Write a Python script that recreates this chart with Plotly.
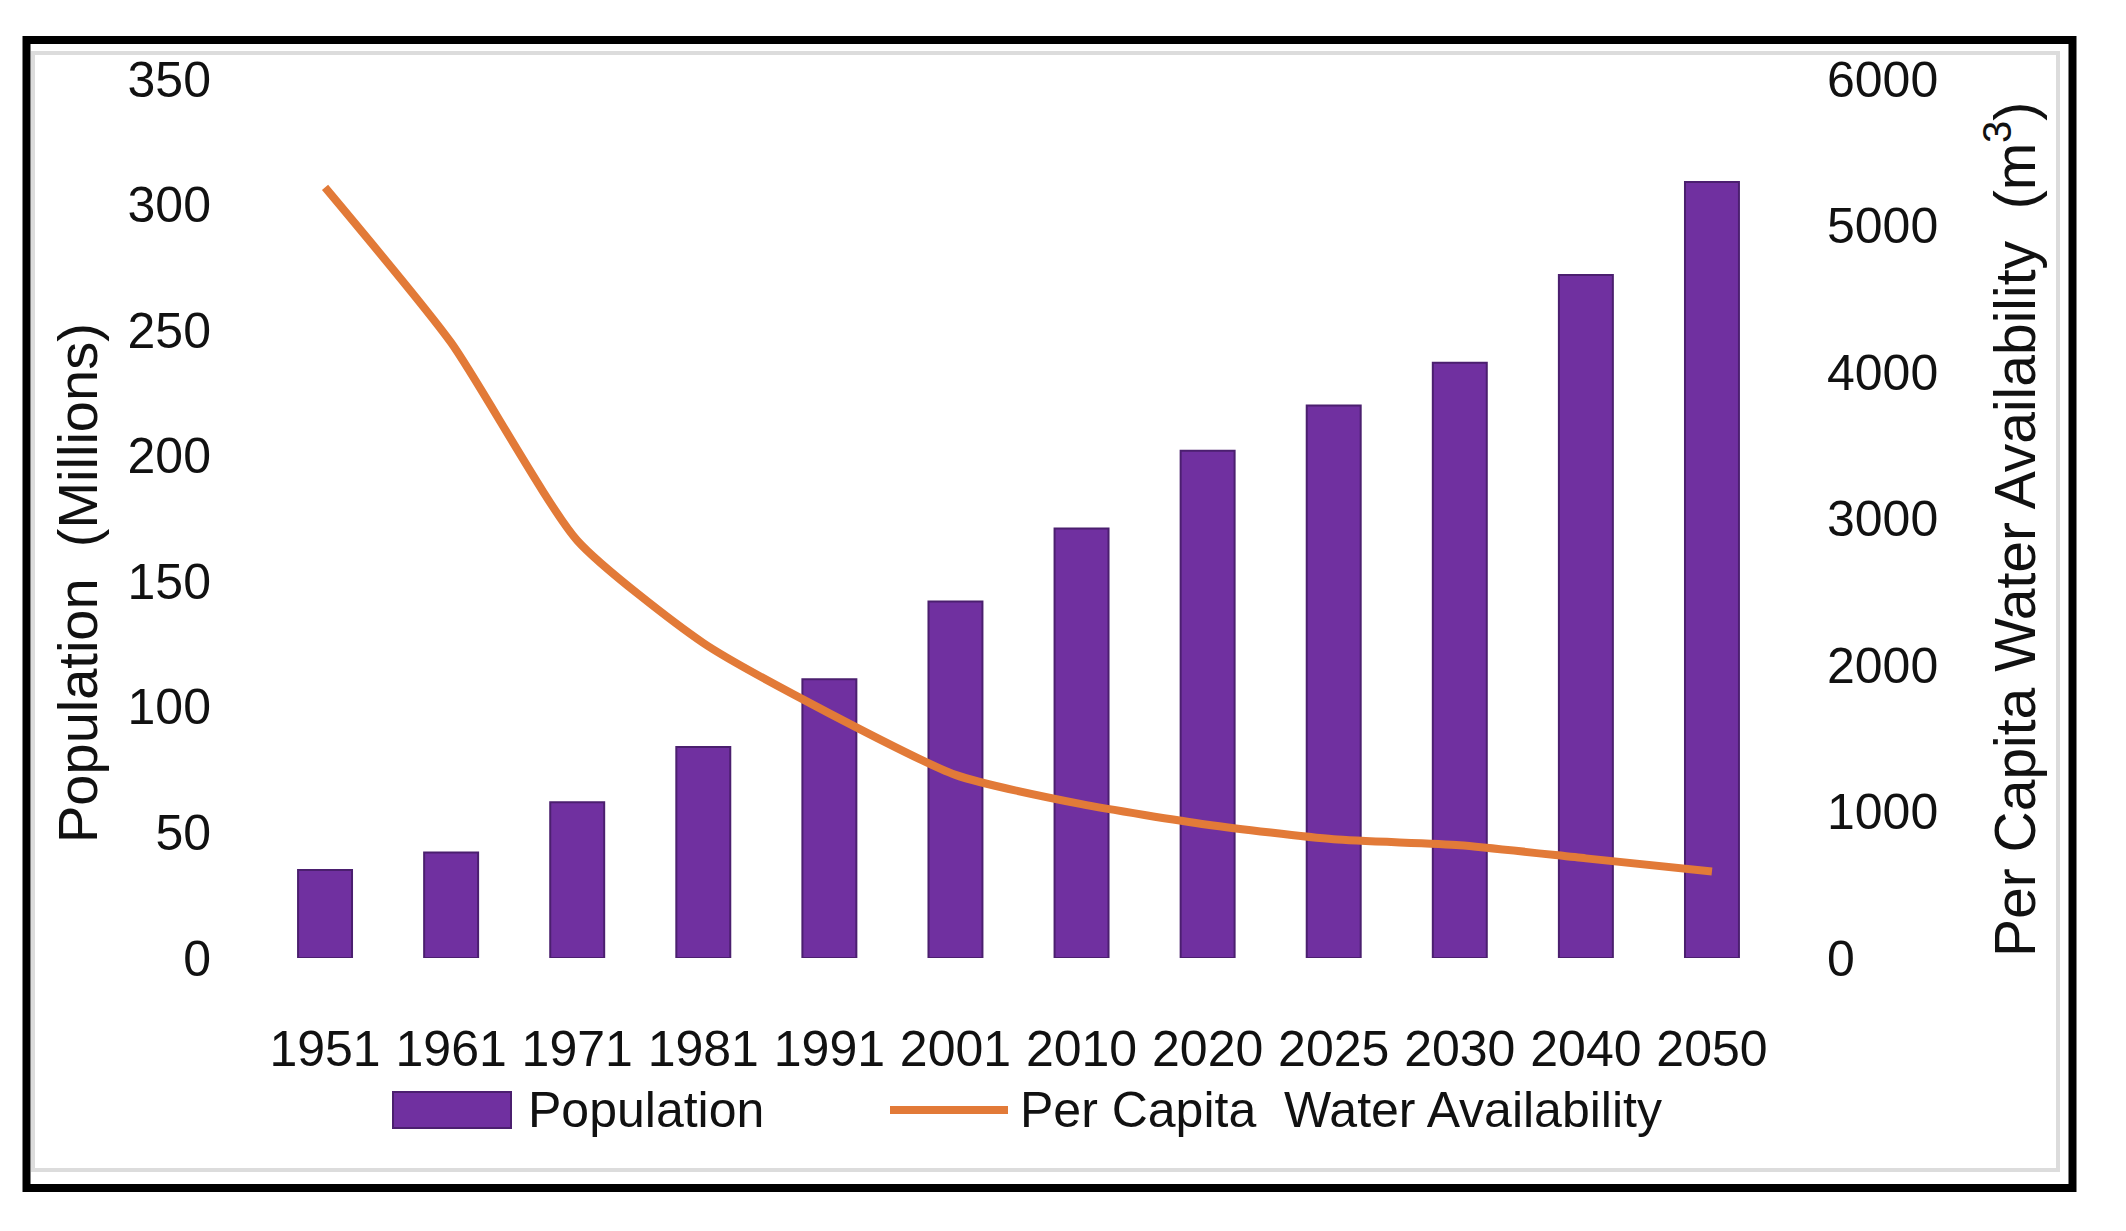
import plotly.graph_objects as go

# data
years = ["1951", "1961", "1971", "1981", "1991", "2001", "2010", "2020", "2025", "2030", "2040", "2050"]
population = [35, 42, 62, 84, 111, 142, 171, 202, 220, 237, 272, 309]
water_per_capita = [5260, 4200, 2850, 2150, 1670, 1250, 1050, 910, 810, 770, 680, 590]

pop_ticks = [0, 50, 100, 150, 200, 250, 300, 350]
water_ticks = [0, 1000, 2000, 3000, 4000, 5000, 6000]

PURPLE = "#7030A0"
PURPLE_EDGE = "#4B1F6F"
ORANGE = "#E27A38"
TEXT = "#111111"
FONT = "Liberation Sans, Arial, sans-serif"

# the page body adds an 8px margin, so the figure is drawn 8px in from the window corner
OFF = 8
W, H = 2126 - 2 * OFF, 1231 - 2 * OFF
L, T = 262 - OFF, 79 - OFF
R = W - (1775 - OFF)
B = H - (958 - OFF)
PW = W - L - R
PH = H - T - B


def px(x):
    # window pixel -> paper x
    return (x - OFF - L) / PW


def py(y):
    # window pixel -> paper y
    return (H - B - (y - OFF)) / PH


fig = go.Figure()

fig.add_trace(go.Bar(
    x=years, y=population, name="Population",
    marker=dict(color=PURPLE, line=dict(color=PURPLE_EDGE, width=2)),
    showlegend=False,
))

fig.add_trace(go.Scatter(
    x=years, y=water_per_capita, name="Per Capita Water Availability",
    mode="lines", yaxis="y2",
    line=dict(color=ORANGE, width=8, shape="spline", smoothing=0.6),
    showlegend=False,
))

shapes = [
    # outer frame
    dict(type="rect", xref="paper", yref="paper",
         x0=px(26.5), x1=px(2072.5), y0=py(40), y1=py(1188),
         line=dict(color="black", width=8), fillcolor="rgba(0,0,0,0)", layer="below"),
    dict(type="rect", xref="paper", yref="paper",
         x0=px(33), x1=px(2058), y0=py(53), y1=py(1170),
         line=dict(color="#dcdcdc", width=4), fillcolor="rgba(0,0,0,0)", layer="below"),
    # legend keys
    dict(type="rect", xref="paper", yref="paper",
         x0=px(393), x1=px(511), y0=py(1092), y1=py(1128),
         line=dict(color=PURPLE_EDGE, width=2), fillcolor=PURPLE),
    dict(type="line", xref="paper", yref="paper",
         x0=px(890), x1=px(1008), y0=py(1110), y1=py(1110),
         line=dict(color=ORANGE, width=8)),
]

annotations = [
    dict(text="Population  (Millions)", xref="paper", yref="paper",
         x=px(77), y=py(583), textangle=-90, showarrow=False,
         xanchor="center", yanchor="middle", font=dict(family=FONT, size=56, color=TEXT)),
    dict(text="Per Capita Water Availability  (m<sup>3</sup>)", xref="paper", yref="paper",
         x=px(2011), y=py(530), textangle=-90, showarrow=False,
         xanchor="center", yanchor="middle", font=dict(family=FONT, size=57, color=TEXT)),
    dict(text="Population", xref="paper", yref="paper",
         x=px(526), y=py(1110), showarrow=False,
         xanchor="left", yanchor="middle", font=dict(family=FONT, size=50, color=TEXT)),
    dict(text="Per Capita  Water Availability", xref="paper", yref="paper",
         x=px(1018), y=py(1110), showarrow=False,
         xanchor="left", yanchor="middle", font=dict(family=FONT, size=50, color=TEXT)),
]

fig.update_layout(
    width=W, height=H,
    margin=dict(l=L, r=R, t=T, b=B, pad=0),
    paper_bgcolor="white", plot_bgcolor="white",
    font=dict(family=FONT, size=50, color=TEXT),
    bargap=0.572,
    showlegend=False,
    shapes=shapes,
    annotations=annotations,
    xaxis=dict(
        type="category", showgrid=False, showline=False, zeroline=False,
        ticks="", ticklabelstandoff=57,
        tickfont=dict(family=FONT, size=50, color=TEXT),
    ),
    yaxis=dict(
        range=[0, 350], tickvals=pop_ticks, showgrid=False, showline=False,
        zeroline=False, ticks="", ticklabelstandoff=50,
        tickfont=dict(family=FONT, size=50, color=TEXT),
    ),
    yaxis2=dict(
        range=[0, 6000], tickvals=water_ticks, overlaying="y", side="right",
        showgrid=False, showline=False, zeroline=False, ticks="",
        ticklabelstandoff=51,
        tickfont=dict(family=FONT, size=50, color=TEXT),
    ),
)

fig.write_html("out.html")
